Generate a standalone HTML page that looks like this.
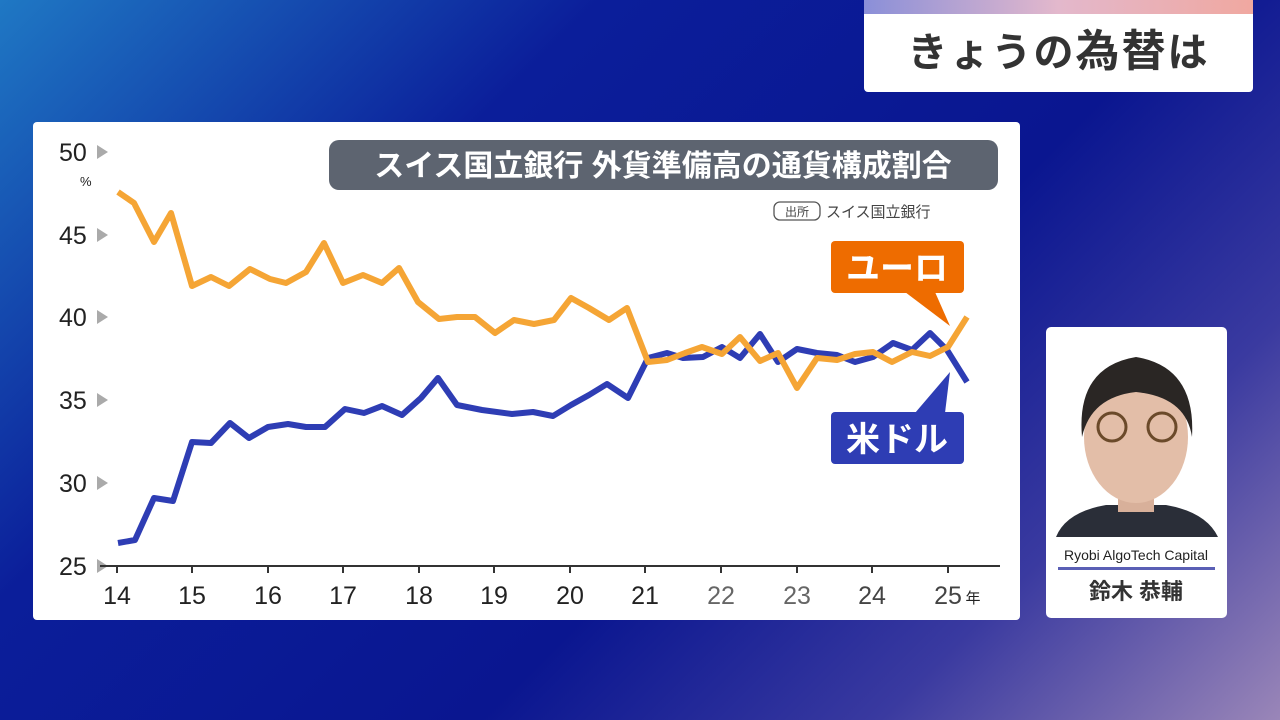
<!DOCTYPE html>
<html><head><meta charset="utf-8"><style>
body{margin:0;width:1280px;height:720px;overflow:hidden;font-family:"Liberation Sans","Noto Sans CJK JP",sans-serif;
background:linear-gradient(135deg,#1f78c4 0%,#0b1e9a 30%,#0a1690 60%,#3a3aa0 80%,#9a86b8 100%);position:relative}
.card{position:absolute;left:33px;top:122px;width:987px;height:498px;background:#fff;border-radius:4px}
.title{position:absolute;left:864px;top:0;width:389px;height:92px;background:#fff;border-radius:0 0 4px 4px;overflow:hidden}
.title .bar{height:14px;background:linear-gradient(90deg,#8a8fd8,#e3b8cc,#f0a8a0)}
.title .t{font-size:40px;font-weight:bold;color:#333;text-align:center;line-height:76px;letter-spacing:2px}
.prof{position:absolute;left:1046px;top:327px;width:181px;height:291px;background:#fff;border-radius:5px}
</style></head><body>
<div class="title"><div class="bar"></div><div class="t">きょうの<span style="font-size:44px">為替</span>は</div></div>
<div class="card"></div>
<svg width="1280" height="720" style="position:absolute;left:0;top:0" font-family="Liberation Sans, Noto Sans CJK JP, sans-serif">
<rect x="329" y="140" width="669" height="50" rx="10" fill="#5d6470"/>
<text x="663" y="176" fill="#fff" font-size="30" font-weight="bold" text-anchor="middle">スイス国立銀行 外貨準備高の通貨構成割合</text>
<rect x="774" y="202" width="46" height="18" rx="6" fill="none" stroke="#555" stroke-width="1.3"/>
<text x="797" y="216" font-size="12" fill="#444" text-anchor="middle">出所</text>
<text x="826" y="217" font-size="15" fill="#444">スイス国立銀行</text>
<g font-size="25" fill="#222">
<text x="59" y="161">50</text><text x="59" y="244">45</text><text x="59" y="326">40</text><text x="59" y="409">35</text><text x="59" y="492">30</text><text x="59" y="575">25</text>
<text x="80" y="186" font-size="13">%</text>
</g>
<g fill="#aaa">
<polygon points="97,145 108,152 97,159"/><polygon points="97,228 108,235 97,242"/><polygon points="97,310 108,317 97,324"/><polygon points="97,393 108,400 97,407"/><polygon points="97,476 108,483 97,490"/><polygon points="97,559 108,566 97,573"/>
</g>
<line x1="100" y1="566" x2="1000" y2="566" stroke="#333" stroke-width="2"/>
<g stroke="#333" stroke-width="2">
<line x1="117" y1="566" x2="117" y2="573"/><line x1="192" y1="566" x2="192" y2="573"/><line x1="268" y1="566" x2="268" y2="573"/><line x1="343" y1="566" x2="343" y2="573"/><line x1="419" y1="566" x2="419" y2="573"/><line x1="494" y1="566" x2="494" y2="573"/><line x1="570" y1="566" x2="570" y2="573"/><line x1="645" y1="566" x2="645" y2="573"/><line x1="721" y1="566" x2="721" y2="573"/><line x1="797" y1="566" x2="797" y2="573"/><line x1="872" y1="566" x2="872" y2="573"/><line x1="948" y1="566" x2="948" y2="573"/>
</g>
<g font-size="25" fill="#222" text-anchor="middle">
<text x="117" y="604">14</text><text x="192" y="604">15</text><text x="268" y="604">16</text><text x="343" y="604">17</text><text x="419" y="604">18</text><text x="494" y="604">19</text><text x="570" y="604">20</text><text x="645" y="604">21</text><text x="721" y="604" fill="#666">22</text><text x="797" y="604" fill="#666">23</text><text x="872" y="604" fill="#444">24</text><text x="948" y="604" fill="#444">25</text>
<text x="973" y="603" font-size="15">年</text>
</g>
<polyline fill="none" stroke="#2e3db4" stroke-width="6" stroke-linejoin="round" points="118,543 135,540 154,498 173,501 192,442 211,443 230,423 249,438 268,427 288,424 306,427 325,427 345,409 364,413 382,406 402,415 421,398 438,378 457,405 482,410 512,414 533,412 553,416 571,405 589,395 607,384 628,398 648,358 667,353 683,358 703,357 722,347 740,358 760,334 778,362 797,349 817,353 837,355 855,362 873,357 893,343 912,350 930,333 947,350 967,382"/>
<polyline fill="none" stroke="#f5a535" stroke-width="6" stroke-linejoin="round" points="118,192 134,203 154,242 171,213 192,286 211,277 229,286 250,269 270,279 286,283 306,272 324,243 343,283 363,275 382,283 399,268 418,302 439,319 457,317 475,317 495,333 514,320 534,324 554,320 571,298 589,308 609,320 627,308 648,362 667,360 685,353 702,347 722,354 740,337 760,361 778,353 797,388 817,358 837,360 855,354 873,352 892,362 912,352 930,356 948,347 967,317"/>
<rect x="831" y="241" width="133" height="52" rx="4" fill="#ee6c00"/>
<polygon points="905,292 935,292 950,326" fill="#ee6c00"/>
<text x="897" y="280" font-size="34" font-weight="bold" fill="#fff" text-anchor="middle">ユーロ</text>
<rect x="831" y="412" width="133" height="52" rx="4" fill="#2e3db4"/>
<polygon points="915,413 945,413 950,372" fill="#2e3db4"/>
<text x="897" y="451" font-size="34" font-weight="bold" fill="#fff" text-anchor="middle">米ドル</text>
</svg>
<div class="prof">
<svg width="181" height="291" style="position:absolute;left:0;top:0">
<path d="M10,210 Q20,185 60,178 L120,178 Q160,185 172,210 Z" fill="#2a2e38"/>
<rect x="72" y="150" width="36" height="35" fill="#d8b09a"/>
<ellipse cx="90" cy="110" rx="52" ry="66" fill="#e3bea8"/>
<path d="M36,110 Q30,40 90,30 Q150,40 146,110 Q140,70 90,65 Q45,70 36,110Z" fill="#2a2624"/>
<circle cx="66" cy="100" r="14" fill="none" stroke="#6b4a2a" stroke-width="3"/><circle cx="116" cy="100" r="14" fill="none" stroke="#6b4a2a" stroke-width="3"/>
<text x="90" y="233" font-size="14" fill="#222" text-anchor="middle" font-family="Liberation Sans, sans-serif">Ryobi AlgoTech Capital</text>
<rect x="12" y="240" width="157" height="3" fill="#5a5fb5"/>
<text x="90" y="272" font-size="22" font-weight="bold" fill="#333" text-anchor="middle" font-family="Liberation Sans, Noto Sans CJK JP, sans-serif">鈴木 恭輔</text>
</svg>
</div>
</body></html>
